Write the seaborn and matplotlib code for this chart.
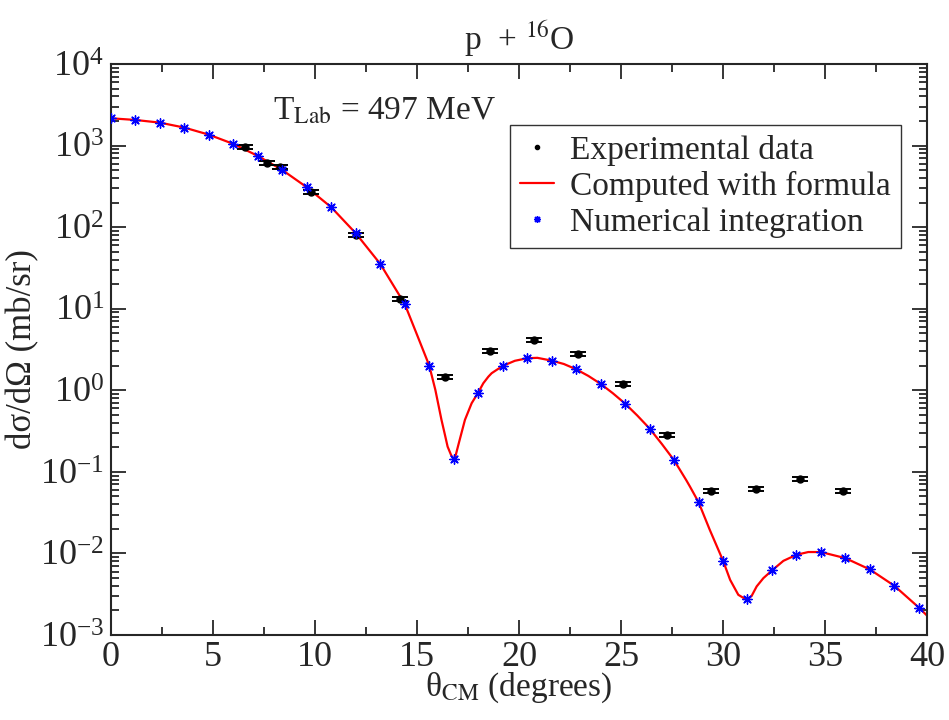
import matplotlib
matplotlib.use("Agg")
import matplotlib.pyplot as plt
import seaborn as sns
import pandas as pd
import numpy as np
from matplotlib.lines import Line2D
from matplotlib.ticker import LogLocator, MultipleLocator, NullFormatter

# ---- data ----
exp_theta = [6.55, 7.63, 8.28, 9.78, 12.0, 14.17, 16.37, 18.56, 20.75, 22.9,
             25.08, 27.24, 29.43, 31.6, 33.78, 35.9]
exp_sigma = [970, 617, 552, 270, 80, 13.1, 1.45, 3.04, 4.15, 2.77,
             1.20, 0.282, 0.058, 0.0614, 0.0813, 0.0585]
exp_err = [58, 37, 33, 16, 4.8, 0.8, 0.087, 0.18, 0.25, 0.17,
           0.072, 0.017, 0.0035, 0.0037, 0.0049, 0.0035]

num_theta = [0.0, 1.2, 2.4, 3.6, 4.8, 6.0, 7.2, 8.4, 9.6, 10.8, 12.0, 13.2,
             14.4, 15.6, 16.8, 18.0, 19.2, 20.4, 21.6, 22.8, 24.0, 25.2, 26.4,
             27.6, 28.8, 30.0, 31.2, 32.4, 33.6, 34.8, 36.0, 37.2, 38.4, 39.6]
num_sigma = [2160, 2060, 1910, 1660, 1360, 1047, 746, 501, 308, 175, 84, 35.4,
             11.4, 2.01, 0.142, 0.937, 1.99, 2.47, 2.31, 1.81, 1.20, 0.687, 0.340,
             0.139, 0.0426, 0.00818, 0.00275, 0.00618, 0.00962, 0.0104, 0.00875,
             0.00636, 0.00401, 0.00217]

curve_theta = [0.0, 1.2, 2.4, 3.6, 4.8, 6.0, 7.2, 8.4, 9.6, 10.8, 12.0, 13.2,
               14.4, 15.0, 15.6, 15.9, 16.2, 16.37, 16.5, 16.67, 16.8, 16.9,
               17.05, 17.35, 17.68, 18.0, 18.25, 18.5, 18.66, 19.2, 19.8, 20.4,
               20.9, 21.6, 22.2, 22.8, 23.4, 24.0, 24.6, 25.2, 25.8, 26.4, 27.0,
               27.6, 28.2, 28.38, 28.8, 29.35, 30.0, 30.35, 30.75, 31.0, 31.2,
               31.4, 31.65, 31.98, 32.4, 32.96, 33.6, 34.18, 34.8, 36.0, 37.2,
               38.4, 39.6, 40.0]
curve_sigma = [2160, 2060, 1910, 1660, 1360, 1047, 746, 501, 308, 175, 84, 35.4,
               11.4, 4.8, 2.01, 1.01, 0.434, 0.284, 0.204, 0.161, 0.142, 0.161,
               0.225, 0.434, 0.695, 0.937, 1.22, 1.47, 1.62, 1.99, 2.30, 2.47,
               2.50, 2.31, 2.10, 1.81, 1.50, 1.20, 0.92, 0.687, 0.49, 0.340, 0.22,
               0.139, 0.079, 0.066, 0.0426, 0.0195, 0.00818, 0.00474, 0.00311,
               0.00285, 0.00275, 0.00300, 0.00394, 0.00498, 0.00618, 0.00811,
               0.00962, 0.0104, 0.0104, 0.00875, 0.00636, 0.00401, 0.00217,
               0.00173]

legend_labels = ["Experimental data", "Computed with formula", "Numerical integration"]

# ---- style ----
sns.set_style("ticks")
plt.rcParams['font.family'] = ['Liberation Serif', 'DejaVu Serif']
plt.rcParams['mathtext.fontset'] = 'stix'
plt.rcParams['axes.linewidth'] = 1.5

fig = plt.figure(figsize=(9.49, 7.2), dpi=100)
ax = fig.add_axes([111/949, 1-635/720, (927-111)/949, (635-64)/720])

df_curve = pd.DataFrame({"theta": curve_theta, "sigma": curve_sigma})
df_num = pd.DataFrame({"theta": num_theta, "sigma": num_sigma})

sns.lineplot(data=df_curve, x="theta", y="sigma", ax=ax, color="red", lw=1.6,
             sort=False, zorder=2)
sns.scatterplot(data=df_num, x="theta", y="sigma", ax=ax, marker=(8, 2, 0),
                color="blue", s=45, linewidth=1.0, edgecolor="blue", zorder=4)
ax.errorbar(exp_theta, exp_sigma, yerr=exp_err, fmt='o', color='black',
            ms=5, capsize=6, elinewidth=1.2, capthick=1.4, zorder=3)

ax.set_yscale('log')
ax.set_xlim(0, 40)
ax.set_ylim(1e-3, 1e4)

ax.xaxis.set_major_locator(MultipleLocator(5))
ax.xaxis.set_minor_locator(MultipleLocator(2.5))
ax.yaxis.set_major_locator(LogLocator(base=10, numticks=20))
ax.yaxis.set_minor_locator(LogLocator(base=10, subs=np.arange(2, 10), numticks=100))
ax.yaxis.set_minor_formatter(NullFormatter())

ax.tick_params(which='both', direction='in', top=True, right=True, width=1.3,
               labelsize=26)
ax.tick_params(which='major', length=11)
ax.tick_params(which='minor', length=6)
ax.tick_params(axis='x', pad=4)
ax.tick_params(axis='y', pad=5)

ax.set_xlabel('θ$_{\\mathrm{CM}}$ (degrees)', fontsize=24, labelpad=-2)
ax.set_ylabel('dσ/dΩ (mb/sr)', fontsize=25, labelpad=0)
ax.set_title('p  + $^{16}$O', fontsize=24, pad=10)

ax.text(7.95, 2.1e3, 'T$_{\\mathrm{Lab}}$ = 497 MeV', fontsize=24, ha='left',
        va='baseline')

handles = [
    Line2D([], [], marker='o', ls='none', color='black', ms=3),
    Line2D([], [], color='red', lw=1.6),
    Line2D([], [], marker=(8, 2, 0), ls='none', color='blue', ms=5, mew=1),
]
leg = ax.legend(handles, legend_labels, loc='upper right',
                bbox_to_anchor=(901/949, 1-125/720), bbox_transform=fig.transFigure,
                fontsize=24, frameon=True, fancybox=False, borderaxespad=0,
                handlelength=1.0, handletextpad=0.5, labelspacing=0.15,
                borderpad=0.3)
leg.get_frame().set_edgecolor('black')
leg.get_frame().set_linewidth(1.0)

fig.savefig('out.png', dpi=100)
